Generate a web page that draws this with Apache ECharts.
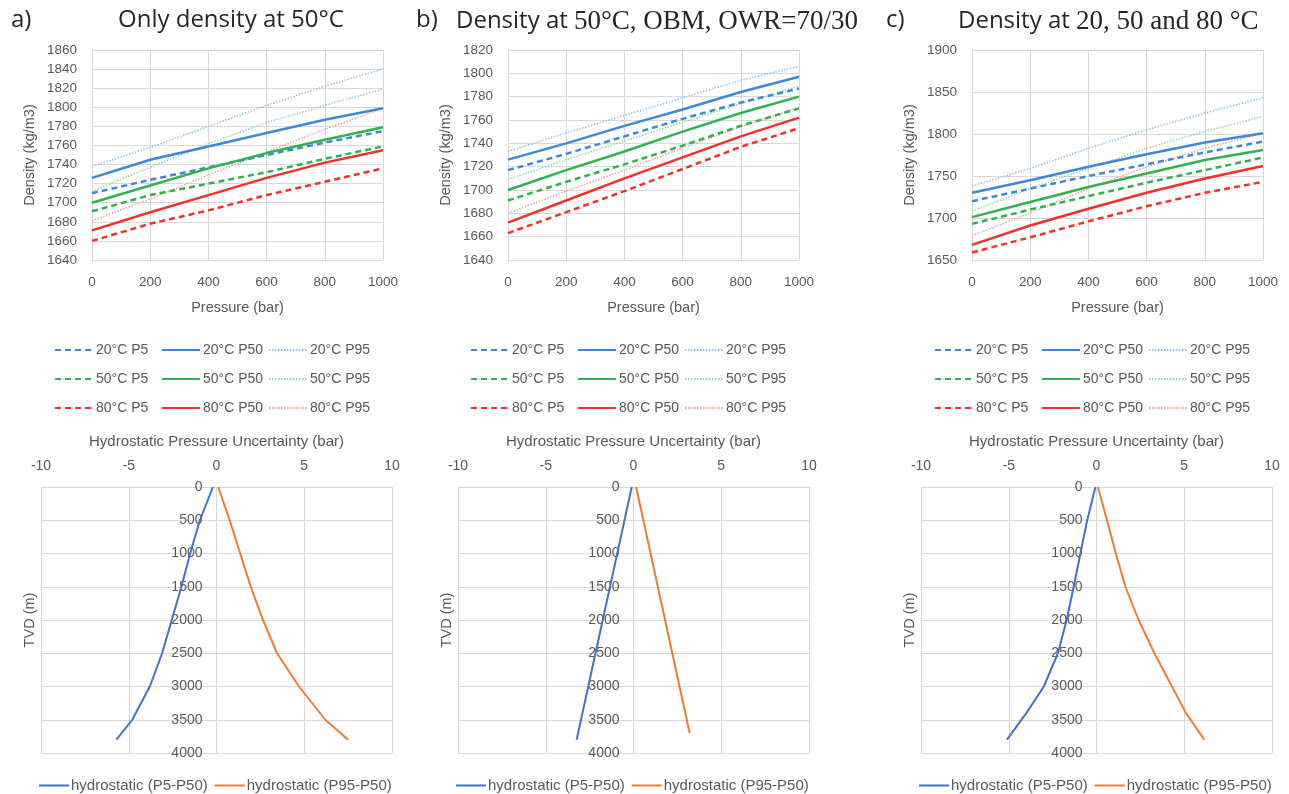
<!DOCTYPE html>
<html>
<head>
<meta charset="utf-8">
<script src="https://cdn.jsdelivr.net/npm/echarts@6/dist/echarts.min.js"></script>
<style>
html, body { margin: 0; padding: 0; background: #fff; }
#main { width: 1289px; height: 794px; }
</style>
</head>
<body>
<div id="main"></div>
<script>
// pressure points (bar)
var pressure = [0, 200, 400, 600, 800, 1000];

// a) only density at 50C
var a20P5 = [1710, 1724, 1737, 1750, 1763, 1775];
var a20P50 = [1726, 1745, 1759, 1773, 1787, 1799];
var a20P95 = [1738, 1758, 1780, 1802, 1822, 1840];
var a50P5 = [1691, 1708, 1720, 1732, 1746, 1759];
var a50P50 = [1700, 1718, 1736, 1752, 1766, 1779];
var a50P95 = [1712, 1737, 1762, 1784, 1802, 1819];
var a80P5 = [1660, 1678, 1692, 1708, 1722, 1736];
var a80P50 = [1671, 1690, 1708, 1726, 1742, 1755];
var a80P95 = [1681, 1704, 1729, 1753, 1777, 1799];

// b) density at 50C, OBM
var b20P5 = [1717, 1731, 1746, 1761, 1775, 1787];
var b20P50 = [1726, 1740, 1755, 1769, 1784, 1797];
var b20P95 = [1733, 1749, 1764, 1779, 1794, 1806];
var b50P5 = [1691, 1707, 1722, 1738, 1755, 1770];
var b50P50 = [1700, 1717, 1733, 1750, 1766, 1780];
var b50P95 = [1709, 1726, 1742, 1758, 1774, 1789];
var b80P5 = [1663, 1681, 1699, 1718, 1737, 1753];
var b80P50 = [1672, 1691, 1710, 1728, 1746, 1762];
var b80P95 = [1680, 1699, 1717, 1736, 1754, 1771];

// c) density at 20, 50, 80C
var c20P5 = [1720, 1735, 1750, 1764, 1778, 1791];
var c20P50 = [1730, 1745, 1761, 1776, 1790, 1801];
var c20P95 = [1738, 1759, 1783, 1805, 1825, 1843];
var c50P5 = [1693, 1710, 1726, 1742, 1757, 1772];
var c50P50 = [1701, 1719, 1737, 1753, 1769, 1781];
var c50P95 = [1708, 1735, 1759, 1783, 1803, 1821];
var c80P5 = [1659, 1677, 1696, 1714, 1730, 1743];
var c80P50 = [1668, 1691, 1711, 1730, 1747, 1762];
var c80P95 = [1679, 1706, 1735, 1761, 1783, 1801];

// hydrostatic uncertainty vs TVD
var aDepth = [0, 500, 1000, 1500, 2000, 2500, 3000, 3500, 3800];
var aLow = [-0.2, -0.95, -1.5, -2.0, -2.55, -3.1, -3.8, -4.8, -5.7];
var aHigh = [0.1, 0.75, 1.35, 1.95, 2.65, 3.45, 4.7, 6.2, 7.5];
var bDepthLow = [0, 3800];
var bLow = [-0.1, -3.24];
var bDepthHigh = [0, 3700];
var bHigh = [0.15, 3.2];
var cDepth = [0, 500, 1000, 1500, 2000, 2500, 3000, 3400, 3800];
var cLow = [-0.06, -0.53, -0.92, -1.3, -1.7, -2.2, -3.0, -4.0, -5.1];
var cHigh = [0.08, 0.6, 1.1, 1.65, 2.4, 3.3, 4.3, 5.1, 6.15];

var names = ['20°C P5', '20°C P50', '20°C P95', '50°C P5', '50°C P50', '50°C P95', '80°C P5', '80°C P50', '80°C P95'];
var deepCol = ['#3f88d8', '#2fb24f', '#f2302c'];
var lightCol = ['#8ec3ee', '#8ed9a3', '#f59e9e'];

var gray = '#595959';
var sans = 'Liberation Sans';
var gridCol = '#d9d9d9';

var topLeft = [92, 508, 972];
var botLeft = [41, 458, 921];
var yMin = [1640, 1640, 1650];
var yMax = [1860, 1820, 1900];
var yStep = [20, 20, 50];

var chart = echarts.init(document.getElementById('main'));

function zip(xs, ys) {
	var out = [];
	for (var i = 0; i < xs.length; i++) out.push([xs[i], ys[i]]);
	return out;
}

// plain numbers, no thousands separator
function plain(v) {
	return String(v);
}

var grids = [], xAxes = [], yAxes = [], series = [], legends = [], graphics = [];

for (var p = 0; p < 3; p++) {
	grids.push({ left: topLeft[p], top: 50, width: 291, height: 210 });
	xAxes.push({
		gridIndex: p, type: 'value', min: 0, max: 1000, interval: 200,
		name: 'Pressure (bar)', nameLocation: 'middle', nameGap: 40,
		nameTextStyle: { color: gray, fontSize: 14.5, fontFamily: sans },
		axisLine: { show: false }, axisTick: { show: false },
		axisLabel: { color: gray, fontSize: 13.5, fontFamily: sans, margin: 15, formatter: plain },
		splitLine: { lineStyle: { color: gridCol } }
	});
	yAxes.push({
		gridIndex: p, type: 'value', min: yMin[p], max: yMax[p], interval: yStep[p],
		name: 'Density (kg/m3)', nameLocation: 'middle', nameGap: 55,
		nameTextStyle: { color: gray, fontSize: 14.5, fontFamily: sans },
		axisLine: { show: false }, axisTick: { show: false },
		axisLabel: { color: gray, fontSize: 13.5, fontFamily: sans, margin: 15, formatter: plain },
		splitLine: { lineStyle: { color: gridCol } }
	});
	// legend: one column per percentile
	for (var k = 0; k < 3; k++) {
		legends.push({
			orient: 'vertical', left: topLeft[p] - 43 + k * 107, top: 338,
			itemWidth: 38, itemHeight: 14, itemGap: 15,
			itemStyle: { opacity: 0 },
			textStyle: { color: gray, fontSize: 14, fontFamily: sans, padding: [0, 0, 0, -2] },
			data: [names[k], names[3 + k], names[6 + k]]
		});
	}
}

for (var p = 0; p < 3; p++) {
	grids.push({ left: botLeft[p], top: 487, width: 351, height: 266 });
	xAxes.push({
		gridIndex: 3 + p, type: 'value', min: -10, max: 10, interval: 5, position: 'top',
		name: 'Hydrostatic Pressure Uncertainty (bar)', nameLocation: 'middle', nameGap: 38,
		nameTextStyle: { color: gray, fontSize: 15, fontFamily: sans },
		axisLine: { show: false }, axisTick: { show: false },
		axisLabel: { color: gray, fontSize: 14, fontFamily: sans, margin: 14 },
		splitLine: { lineStyle: { color: gridCol } }
	});
	// depth labels sit on the zero line of the x axis
	yAxes.push({
		gridIndex: 3 + p, type: 'value', min: 0, max: 4000, interval: 500, inverse: true,
		offset: -175.5,
		axisLine: { show: false, onZero: false }, axisTick: { show: false },
		axisLabel: { color: gray, fontSize: 14, fontFamily: sans, margin: 14, formatter: plain },
		splitLine: { lineStyle: { color: gridCol } }
	});
	legends.push({
		left: botLeft[p] - 8, top: 773, itemWidth: 30, itemHeight: 14, itemGap: 6,
		itemStyle: { opacity: 0 },
		textStyle: { color: gray, fontSize: 15, fontFamily: sans, padding: [0, 0, 0, -3] },
		data: ['hydrostatic (P5-P50)', 'hydrostatic (P95-P50)']
	});
	graphics.push({
		type: 'text', x: botLeft[p] - 11, y: 620, rotation: Math.PI / 2,
		style: { text: 'TVD (m)', fill: gray, font: '14.5px ' + sans, align: 'center', verticalAlign: 'middle' }
	});
}

var topData = [
	[a20P5, a20P50, a20P95, a50P5, a50P50, a50P95, a80P5, a80P50, a80P95],
	[b20P5, b20P50, b20P95, b50P5, b50P50, b50P95, b80P5, b80P50, b80P95],
	[c20P5, c20P50, c20P95, c50P5, c50P50, c50P95, c80P5, c80P50, c80P95]
];

for (var p = 0; p < 3; p++) {
	for (var i = 0; i < 9; i++) {
		var t = Math.floor(i / 3), kind = i % 3;
		var ls;
		if (kind === 0) ls = { color: deepCol[t], width: 2.5, type: [6, 4] };
		else if (kind === 1) ls = { color: deepCol[t], width: 2.5, type: 'solid' };
		else ls = { color: lightCol[t], width: 1.5, type: [1.5, 1.5] };
		series.push({
			type: 'line', name: names[i], xAxisIndex: p, yAxisIndex: p,
			data: zip(pressure, topData[p][i]), symbol: 'circle', showSymbol: false,
			lineStyle: ls, itemStyle: { color: ls.color }, z: kind === 2 ? 1 : 2
		});
	}
}

var lowSets = [zip(aLow, aDepth), zip(bLow, bDepthLow), zip(cLow, cDepth)];
var highSets = [zip(aHigh, aDepth), zip(bHigh, bDepthHigh), zip(cHigh, cDepth)];
for (var p = 0; p < 3; p++) {
	series.push({
		type: 'line', name: 'hydrostatic (P5-P50)', xAxisIndex: 3 + p, yAxisIndex: 3 + p,
		data: lowSets[p], symbol: 'circle', showSymbol: false,
		lineStyle: { color: '#4472c4', width: 2 }, itemStyle: { color: '#4472c4' }
	});
	series.push({
		type: 'line', name: 'hydrostatic (P95-P50)', xAxisIndex: 3 + p, yAxisIndex: 3 + p,
		data: highSets[p], symbol: 'circle', showSymbol: false,
		lineStyle: { color: '#ed7d31', width: 2 }, itemStyle: { color: '#ed7d31' }
	});
}

var titleRich = {
	s: { fontFamily: 'Open Sans', fontSize: 24, color: '#262626', fontWeight: 'normal' },
	r: { fontFamily: 'Liberation Serif', fontSize: 27, color: '#262626', fontWeight: 'normal' }
};
var labStyle = { fontFamily: 'Open Sans', fontSize: 24, color: '#262626', fontWeight: 'normal' };
var titles = [
	{ left: 6, top: 3, text: 'a)', textStyle: labStyle },
	{ left: 113, top: 3, text: '{s|Only density at 50°C}', textStyle: { rich: titleRich, fontWeight: 'normal' } },
	{ left: 411, top: 3, text: 'b)', textStyle: labStyle },
	{ left: 451, top: 3, text: '{s|Density at }{r|50°C, OBM, OWR=70/30}', textStyle: { rich: titleRich, fontWeight: 'normal' } },
	{ left: 881, top: 3, text: 'c)', textStyle: labStyle },
	{ left: 953, top: 3, text: '{s|Density at }{r|20, 50 and 80 °C}', textStyle: { rich: titleRich, fontWeight: 'normal' } }
];

chart.setOption({
	backgroundColor: '#fff',
	animation: false,
	title: titles,
	legend: legends,
	grid: grids,
	xAxis: xAxes,
	yAxis: yAxes,
	series: series,
	graphic: graphics
});
</script>
</body>
</html>
